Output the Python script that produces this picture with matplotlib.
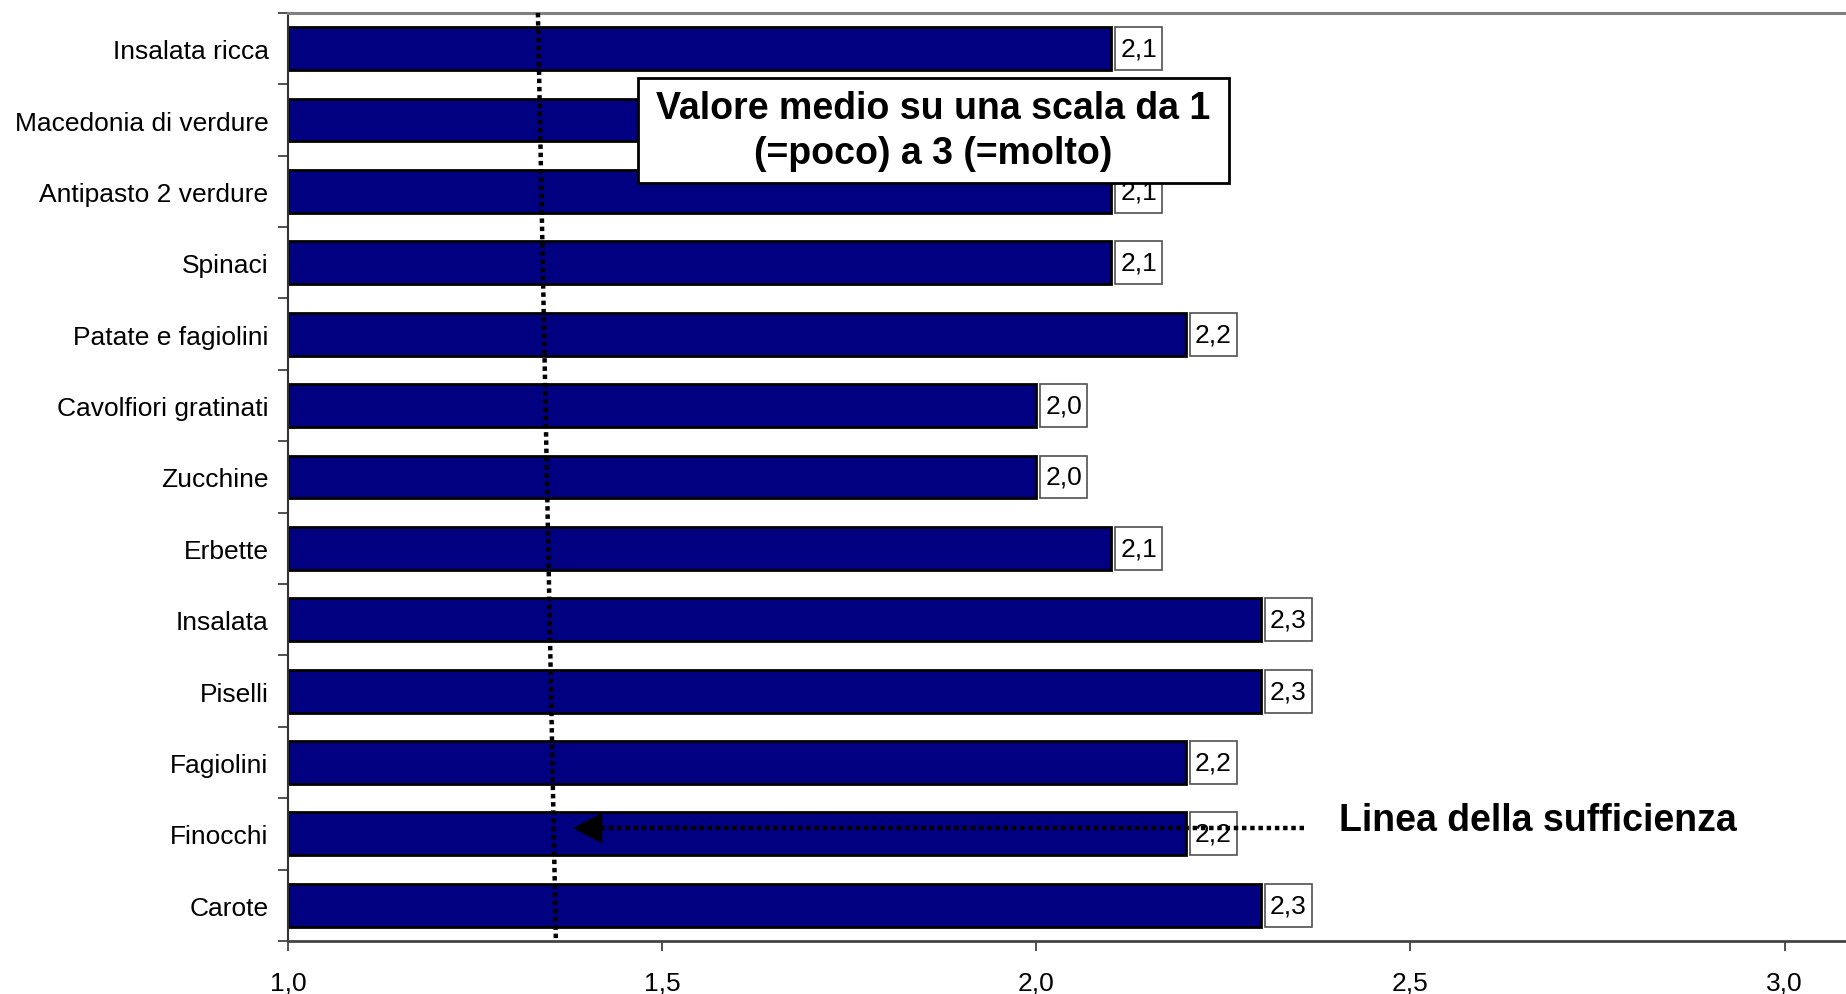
import matplotlib
matplotlib.use("Agg")
import matplotlib.pyplot as plt
from matplotlib.patches import Rectangle
from matplotlib.ticker import FixedLocator

plt.rcParams['font.family'] = ['Liberation Sans', 'DejaVu Sans']

categories = ["Insalata ricca", "Macedonia di verdure", "Antipasto 2 verdure", "Spinaci",
              "Patate e fagiolini", "Cavolfiori gratinati", "Zucchine", "Erbette",
              "Insalata", "Piselli", "Fagiolini", "Finocchi", "Carote"]
values = [2.1, 2.1, 2.1, 2.1, 2.2, 2.0, 2.0, 2.1, 2.3, 2.3, 2.2, 2.2, 2.3]
x_ticks = [1.0, 1.5, 2.0, 2.5, 3.0]
x_tick_labels = ["1,0", "1,5", "2,0", "2,5", "3,0"]

box_text = "Valore medio su una scala da 1\n(=poco) a 3 (=molto)"
line_text = "Linea della sufficienza"
# sufficiency line (slightly slanted in original), in data x
suff_top_x, suff_bottom_x = 1.334, 1.358
arrow_start_x, arrow_tip_x, arrow_y = 2.358, 1.381, 10.92

BAR_H = 0.6
LBL_GAP, LBL_W = 0.0055, 0.0625

fig = plt.figure(figsize=(18.46, 9.95), dpi=100)
ax = fig.add_axes([0.156, 0.0533, 0.844, 0.9327])

n = len(categories)
ypos = list(range(n))
ax.barh(ypos, [v - 1.0 for v in values], left=1.0, height=BAR_H,
        color='#000080', edgecolor='black', linewidth=2, zorder=2)

for y, v in zip(ypos, values):
    ax.add_patch(Rectangle((v + LBL_GAP, y - BAR_H / 2), LBL_W, BAR_H,
                           fc='white', ec='#505050', lw=1.2, zorder=3))
    ax.text(v + LBL_GAP + LBL_W / 2, y, f"{v:.1f}".replace('.', ','),
            ha='center', va='center', fontsize=19, zorder=4)

ax.set_xlim(1.0, 3.082)
ax.set_ylim(n - 0.5, -0.5)

ax.set_xticks(x_ticks)
ax.set_xticklabels(x_tick_labels, fontsize=19)
ax.tick_params(axis='x', direction='out', length=7, width=1.2, color='#333333', pad=14)

ax.yaxis.set_major_locator(FixedLocator([i - 0.5 for i in range(n + 1)]))
ax.yaxis.set_minor_locator(FixedLocator(ypos))
ax.set_yticklabels([], minor=False)
ax.set_yticklabels(categories, minor=True, fontsize=19)
ax.tick_params(axis='y', which='major', direction='out', length=7, width=1.2, color='#333333')
ax.tick_params(axis='y', which='minor', length=0, pad=14)

ax.spines['right'].set_visible(False)
ax.spines['top'].set_color('#808080')
ax.spines['top'].set_linewidth(2.2)
ax.spines['left'].set_color('#333333')
ax.spines['left'].set_linewidth(1.5)
ax.spines['bottom'].set_color('#444444')
ax.spines['bottom'].set_linewidth(2)

DOT = (0, (1.0, 0.85))
# sufficiency line
ax.plot([suff_top_x, suff_bottom_x], [-0.5, n - 0.5], color='black', lw=3.2,
        linestyle=DOT, dash_capstyle='butt', zorder=5, clip_on=False)

# arrow
ax.plot([arrow_start_x, arrow_tip_x + 0.03], [arrow_y, arrow_y], color='black', lw=3.2,
        linestyle=DOT, dash_capstyle='butt', zorder=5)
ax.annotate('', xy=(arrow_tip_x, arrow_y), xytext=(arrow_tip_x + 0.06, arrow_y),
            arrowprops=dict(arrowstyle='-|>,head_length=1.05,head_width=0.55',
                            mutation_scale=20, lw=0, fc='black', ec='none',
                            shrinkA=0, shrinkB=0), zorder=6)

ax.text(2.405, 10.8, line_text, fontsize=27, fontweight='bold', ha='left',
        va='center', zorder=6)

# text box
rect = Rectangle((0.2246, 0.8168), 0.3793, 0.113, transform=ax.transAxes,
                 fc='white', ec='black', lw=2, zorder=7)
ax.add_patch(rect)
ax.text(0.2246 + 0.3793 / 2, 0.8168 + 0.113 / 2, box_text, transform=ax.transAxes,
        ha='center', va='center', fontsize=27, fontweight='bold', linespacing=1.3,
        zorder=8)

fig.savefig("out.png", dpi=100)
